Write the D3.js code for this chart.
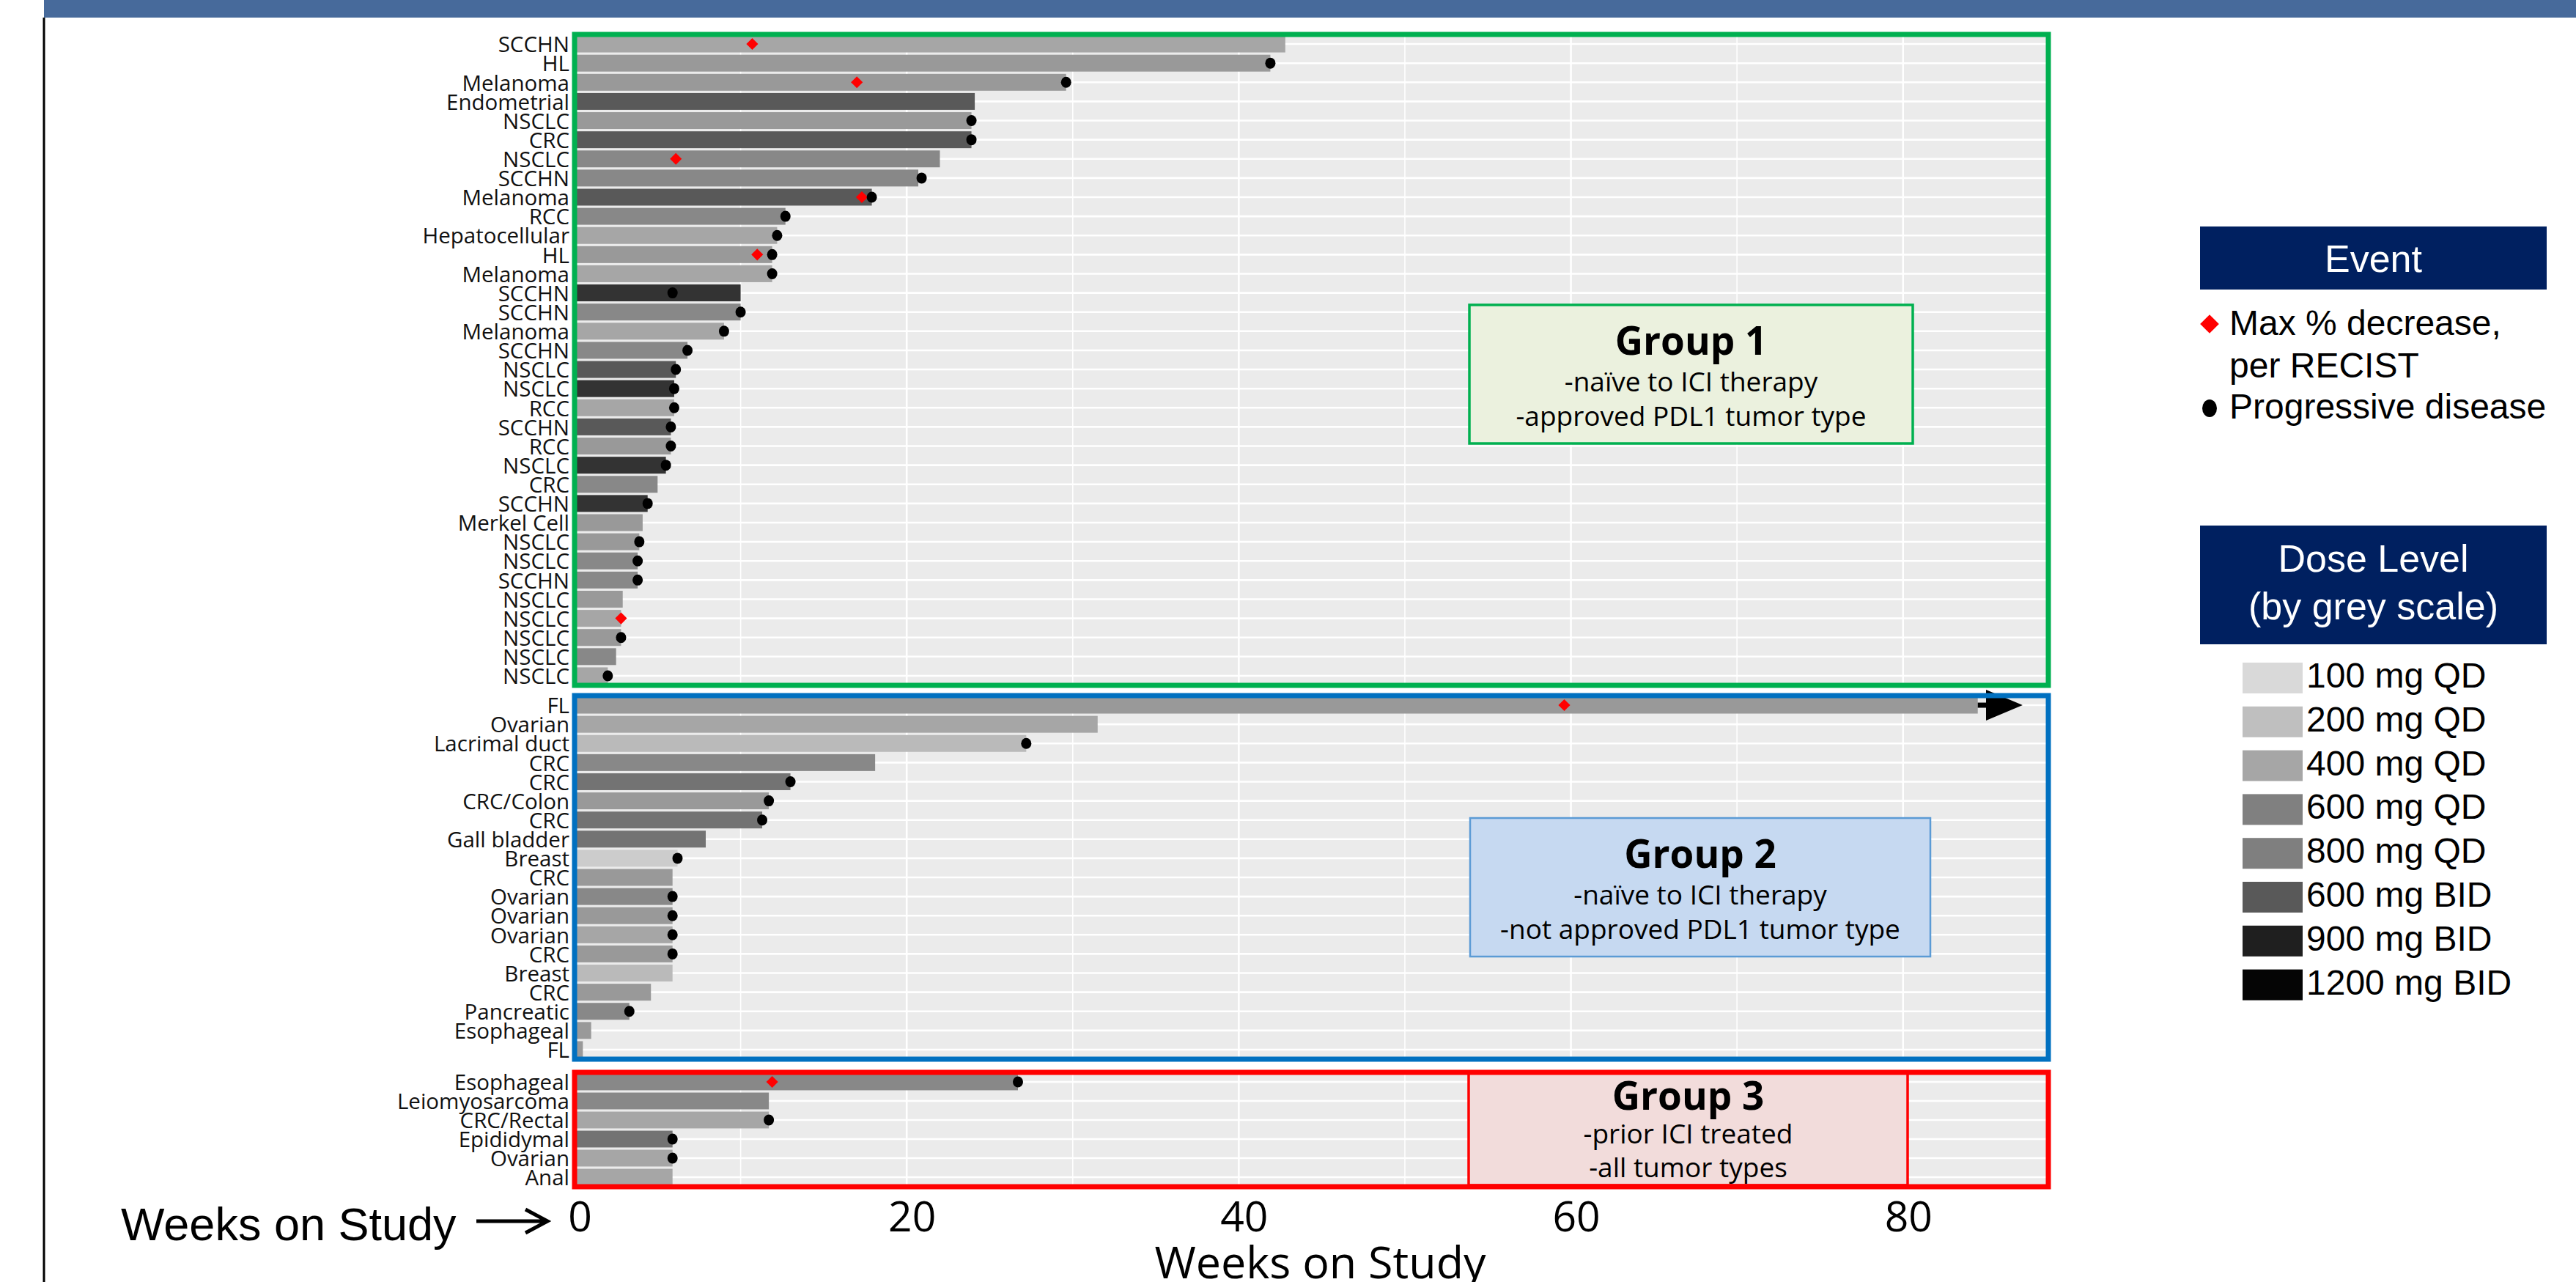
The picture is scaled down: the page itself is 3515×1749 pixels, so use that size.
<!DOCTYPE html>
<html><head><meta charset="utf-8">
<script src="https://cdn.jsdelivr.net/npm/d3@7"></script>
<style>body{margin:0;background:#fff}svg{display:block}</style>
</head><body>
<svg id="chart" width="3515" height="1749"></svg>
<script>
// ---------------- DATA ----------------
const doseLevels = ["100 mg QD","200 mg QD","400 mg QD","600 mg QD","800 mg QD","600 mg BID","900 mg BID","1200 mg BID"];
const xTicks = [0, 20, 40, 60, 80];
const xMinorTicks = [10, 30, 50, 70];
const xMax = 88.75;

const g1Labels = ["SCCHN","HL","Melanoma","Endometrial","NSCLC","CRC","NSCLC","SCCHN","Melanoma","RCC","Hepatocellular","HL","Melanoma","SCCHN","SCCHN","Melanoma","SCCHN","NSCLC","NSCLC","RCC","SCCHN","RCC","NSCLC","CRC","SCCHN","Merkel Cell","NSCLC","NSCLC","SCCHN","NSCLC","NSCLC","NSCLC","NSCLC","NSCLC"];
const g1Weeks = [42.8,41.9,29.6,24.1,23.9,23.9,22.0,20.7,17.9,12.7,12.2,11.9,11.9,10.0,10.0,9.0,6.8,6.1,6.0,6.0,5.8,5.8,5.5,5.0,4.4,4.1,3.9,3.8,3.8,2.9,2.8,2.8,2.5,2.0];
const g1Dose = [2,3,3,6,3,6,4,4,6,4,2,3,2,7,4,2,4,6,7,2,6,3,7,4,7,3,3,4,4,3,2,3,4,2];
const g1Progression = [null,41.9,29.6,null,23.9,23.9,null,20.9,17.9,12.7,12.2,11.9,11.9,5.9,10.0,9.0,6.8,6.1,6.0,6.0,5.8,5.8,5.5,null,4.4,null,3.9,3.8,3.8,null,null,2.8,null,2.0];
const g1MaxDecrease = [10.7,null,17.0,null,null,null,6.1,null,17.3,null,null,11.0,null,null,null,null,null,null,null,null,null,null,null,null,null,null,null,null,null,null,2.8,null,null,null];

const g2Labels = ["FL","Ovarian","Lacrimal duct","CRC","CRC","CRC/Colon","CRC","Gall bladder","Breast","CRC","Ovarian","Ovarian","Ovarian","CRC","Breast","CRC","Pancreatic","Esophageal","FL"];
const g2Weeks = [84.5,31.5,27.2,18.1,13.0,11.7,11.3,7.9,6.2,5.9,5.9,5.9,5.9,5.9,5.9,4.6,3.3,1.0,0.5];
const g2Dose = [3,2,1,4,5,3,5,5,0,3,4,3,2,3,1,3,4,3,3];
const g2Progression = [null,null,27.2,null,13.0,11.7,11.3,null,6.2,null,5.9,5.9,5.9,5.9,null,null,3.3,null,null];
const g2MaxDecrease = [59.6,null,null,null,null,null,null,null,null,null,null,null,null,null,null,null,null,null,null];
const g2OngoingRow = 0, g2OngoingTip = 87.2, g2OngoingBase = 85.0;

const g3Labels = ["Esophageal","Leiomyosarcoma","CRC/Rectal","Epididymal","Ovarian","Anal"];
const g3Weeks = [26.7,11.7,11.7,5.9,5.9,5.9];
const g3Dose = [4,4,2,5,2,2];
const g3Progression = [26.7,null,11.7,5.9,5.9,null];
const g3MaxDecrease = [11.9,null,null,null,null,null];

const groupTitles = ["Group 1","Group 2","Group 3"];
const groupNotes = [["-naïve to ICI therapy","-approved PDL1 tumor type"],
                    ["-naïve to ICI therapy","-not approved PDL1 tumor type"],
                    ["-prior ICI treated","-all tumor types"]];

// ---------------- STYLE ----------------
const barColors = ["#CCCCCC","#BABABA","#A6A6A6","#999999","#888888","#737373","#595959","#333333"];
const legendColors = ["#D9D9D9","#BFBFBF","#A6A6A6","#808080","#7F7F7F","#595959","#1F1F1F","#050505"];
const barColor = d3.scaleOrdinal().domain(d3.range(doseLevels.length)).range(barColors);
const FONT = "'Open Sans', 'Noto Sans', sans-serif";
const ARIAL = "'Liberation Sans', Arial, sans-serif";

const svg = d3.select("#chart");
const W = 3515, H = 1749;
svg.append("rect").attr("width", W).attr("height", H).attr("fill", "#fff");
svg.append("rect").attr("x", 60).attr("y", 0).attr("width", W - 60).attr("height", 24).attr("fill", "#476A9B");
svg.append("line").attr("x1", 60).attr("x2", 60).attr("y1", 24).attr("y2", H).attr("stroke", "#000").attr("stroke-width", 3);

const x = d3.scaleLinear().domain([0, xMax]).range([784, 2795]);

const panels = [
  {labels: g1Labels, weeks: g1Weeks, dose: g1Dose, pd: g1Progression, md: g1MaxDecrease, top: 47, bottom: 935, border: "#00B050",
   box: {x0: 2005, x1: 2610, y0: 416, y1: 605, fill: "#EBF1DE", stroke: "#00B050", sw: 3.5, base: [68, 118, 165]}},
  {labels: g2Labels, weeks: g2Weeks, dose: g2Dose, pd: g2Progression, md: g2MaxDecrease, top: 949, bottom: 1445, border: "#0070C0",
   box: {x0: 2006, x1: 2634, y0: 1116, y1: 1305, fill: "#C6D9F1", stroke: "#5B9BD5", sw: 2.5, base: [68, 118, 165]}},
  {labels: g3Labels, weeks: g3Weeks, dose: g3Dose, pd: g3Progression, md: g3MaxDecrease, top: 1463, bottom: 1619, border: "#FF0000",
   box: {x0: 2004, x1: 2603, y0: 1464, y1: 1617, fill: "#F2DCDB", stroke: "#FF0000", sw: 3.5, base: [50, 96, 142]}}
];

const diamond = d3.symbol().type(d3.symbolSquare).size(130);

panels.forEach((p, pi) => {
  const n = p.labels.length;
  const y = d3.scaleBand().domain(d3.range(n)).range([p.top, p.bottom]).paddingInner(0.12).paddingOuter(0.06);
  const yc = i => y(i) + y.bandwidth() / 2;
  const g = svg.append("g");
  g.append("rect").attr("x", x(0)).attr("y", p.top).attr("width", x(xMax) - x(0)).attr("height", p.bottom - p.top).attr("fill", "#EBEBEB");
  g.selectAll(".vmin").data(xMinorTicks).join("line")
    .attr("x1", d => x(d)).attr("x2", d => x(d)).attr("y1", p.top).attr("y2", p.bottom)
    .attr("stroke", "#fff").attr("stroke-width", 1.6);
  g.selectAll(".vmaj").data(xTicks).join("line")
    .attr("x1", d => x(d)).attr("x2", d => x(d)).attr("y1", p.top).attr("y2", p.bottom)
    .attr("stroke", "#fff").attr("stroke-width", 2.6);
  g.selectAll(".hg").data(d3.range(n)).join("line")
    .attr("x1", x(0)).attr("x2", x(xMax)).attr("y1", yc).attr("y2", yc)
    .attr("stroke", "#fff").attr("stroke-width", 2.6);
  // annotation box
  const b = p.box;
  g.append("rect").attr("x", b.x0).attr("y", b.y0).attr("width", b.x1 - b.x0).attr("height", b.y1 - b.y0)
    .attr("fill", b.fill).attr("stroke", b.stroke).attr("stroke-width", b.sw);
  const cx = (b.x0 + b.x1) / 2;
  g.append("text").attr("x", cx).attr("y", b.y0 + b.base[0]).attr("text-anchor", "middle")
    .attr("font-family", FONT).attr("font-weight", 700).attr("font-size", 53).attr("fill", "#000").text(groupTitles[pi]);
  groupNotes[pi].forEach((t, k) => {
    g.append("text").attr("x", cx).attr("y", b.y0 + b.base[k + 1]).attr("text-anchor", "middle")
      .attr("font-family", FONT).attr("font-size", 37).attr("fill", "#000").text(t);
  });
  // bars
  g.selectAll(".bar").data(d3.range(n)).join("rect")
    .attr("x", x(0)).attr("y", i => y(i)).attr("width", i => x(p.weeks[i]) - x(0)).attr("height", y.bandwidth())
    .attr("fill", i => barColor(p.dose[i]));
  // ongoing arrow
  if (pi === 1) {
    const ya = yc(g2OngoingRow);
    g.append("line").attr("x1", x(p.weeks[g2OngoingRow])).attr("x2", x(g2OngoingBase) + 4).attr("y1", ya).attr("y2", ya)
      .attr("stroke", "#000").attr("stroke-width", 7);
    g.append("path").attr("d", `M${x(g2OngoingBase)},${ya - 21}L${x(g2OngoingTip)},${ya}L${x(g2OngoingBase)},${ya + 21}Z`).attr("fill", "#000");
  }
  // events
  g.selectAll(".md").data(d3.range(n).filter(i => p.md[i] != null)).join("path")
    .attr("d", diamond).attr("transform", i => `translate(${x(p.md[i])},${yc(i)}) rotate(45)`).attr("fill", "#FF0000");
  g.selectAll(".pd").data(d3.range(n).filter(i => p.pd[i] != null)).join("ellipse")
    .attr("cx", i => x(p.pd[i])).attr("cy", yc).attr("rx", 7).attr("ry", 7.5).attr("fill", "#000");
  // y axis
  const ax = g.append("g").attr("transform", `translate(${x(0)},0)`)
    .call(d3.axisLeft(y).tickSize(0).tickPadding(7).tickFormat(i => p.labels[i]));
  ax.select(".domain").remove();
  ax.selectAll("text").attr("font-family", FONT).attr("font-size", 29.5).attr("fill", "#111").attr("dy", "0.38em");
  // border
  g.append("rect").attr("x", x(0)).attr("y", p.top).attr("width", x(xMax) - x(0)).attr("height", p.bottom - p.top)
    .attr("fill", "none").attr("stroke", p.border).attr("stroke-width", 7);
});

// x axis
const xa = svg.append("g").attr("transform", "translate(0,1622)")
  .call(d3.axisBottom(x).tickValues(xTicks).tickSize(0).tickPadding(18));
xa.select(".domain").remove();
xa.selectAll("text").attr("font-family", FONT).attr("font-size", 57).attr("fill", "#000").attr("dx", 7);

svg.append("text").attr("x", (x(0) + x(xMax)) / 2 + 12).attr("y", 1744).attr("text-anchor", "middle")
  .attr("font-family", FONT).attr("font-size", 61).attr("fill", "#000").text("Weeks on Study");

svg.append("text").attr("x", 165).attr("y", 1692).attr("font-family", ARIAL).attr("font-size", 63).attr("fill", "#000").text("Weeks on Study");
svg.append("path").attr("d", "M650,1666H745M717,1650L747,1666L717,1682").attr("fill", "none").attr("stroke", "#000").attr("stroke-width", 5);

// ---------------- LEGEND ----------------
const L = svg.append("g");
L.append("rect").attr("x", 3002).attr("y", 309).attr("width", 473).attr("height", 86).attr("fill", "#002060");
L.append("text").attr("x", 3238.5).attr("y", 371).attr("text-anchor", "middle").attr("font-family", ARIAL).attr("font-size", 52).attr("fill", "#fff").text("Event");
L.append("path").attr("d", d3.symbol().type(d3.symbolSquare).size(330)).attr("transform", "translate(3015,442) rotate(45)").attr("fill", "#FF0000");
L.append("text").attr("x", 3042).attr("y", 457).attr("font-family", ARIAL).attr("font-size", 48).text("Max % decrease,");
L.append("text").attr("x", 3042).attr("y", 515).attr("font-family", ARIAL).attr("font-size", 48).text("per RECIST");
L.append("ellipse").attr("cx", 3015).attr("cy", 557).attr("rx", 10).attr("ry", 12).attr("fill", "#000");
L.append("text").attr("x", 3042).attr("y", 571).attr("font-family", ARIAL).attr("font-size", 48).text("Progressive disease");

L.append("rect").attr("x", 3002).attr("y", 717).attr("width", 473).attr("height", 162).attr("fill", "#002060");
L.append("text").attr("x", 3238.5).attr("y", 780).attr("text-anchor", "middle").attr("font-family", ARIAL).attr("font-size", 52).attr("fill", "#fff").text("Dose Level");
L.append("text").attr("x", 3238.5).attr("y", 845).attr("text-anchor", "middle").attr("font-family", ARIAL).attr("font-size", 52).attr("fill", "#fff").text("(by grey scale)");
const li = L.selectAll(".li").data(doseLevels).join("g").attr("transform", (d, i) => `translate(3060,${904 + i * 59.8})`);
li.append("rect").attr("width", 82).attr("height", 42).attr("fill", (d, i) => legendColors[i]);
li.append("text").attr("x", 87).attr("y", 34).attr("font-family", ARIAL).attr("font-size", 48).attr("fill", "#000").text(d => d);
</script>
</body></html>
